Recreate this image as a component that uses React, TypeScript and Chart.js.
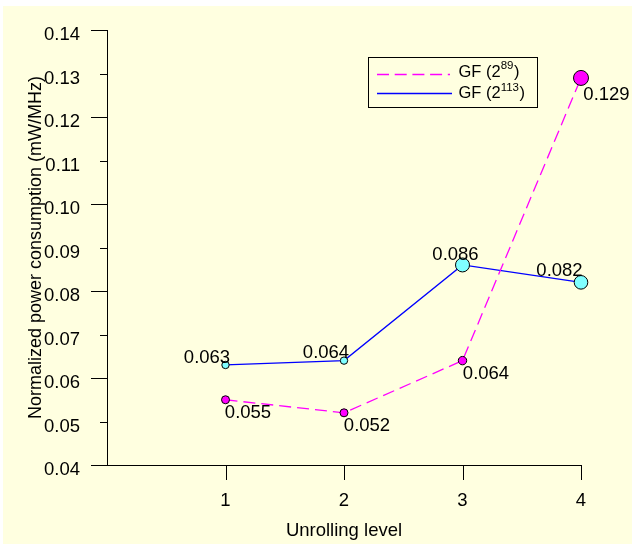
import React, { useEffect, useRef } from 'react';
import { Chart, registerables } from 'chart.js';

Chart.register(...registerables);

// ---- data ----
const levels = [1, 2, 3, 4];
const gf89 = [0.055, 0.052, 0.064, 0.129];
const gf113 = [0.063, 0.064, 0.086, 0.082];
const yTickValues = [0.04, 0.05, 0.06, 0.07, 0.08, 0.09, 0.1, 0.11, 0.12, 0.13, 0.14];
const xTickValues = [1, 2, 3, 4];
const seriesBase = ['GF (2', 'GF (2'];
const seriesSup = ['89', '113'];
const xTitle = 'Unrolling level';
const yTitle = 'Normalized power consumption (mW/MHz)';

// ---- styles ----
const FONT = '"Liberation Sans", Arial, sans-serif';
const BG = '#FFFFE0';
const radius113 = [3.7, 3.7, 7, 6.8];
const radius89 = [4, 4, 4.2, 7.5];
// label offsets (dx, dy to baseline) relative to point centres
const labelOff113: [number, number][] = [[-18.5, -2], [-18, -2.5], [-7, -4.6], [-21.5, -6]];
const labelOff89: [number, number][] = [[22.5, 18], [23, 18.3], [23.5, 18.6], [25.5, 21.6]];

const bgPlugin = {
  id: 'bgPlugin',
  beforeDraw(chart: any) {
    const ctx = chart.ctx;
    ctx.save();
    ctx.fillStyle = '#FFFFFF';
    ctx.fillRect(0, 0, chart.width, chart.height);
    ctx.fillStyle = BG;
    ctx.fillRect(3, 6, chart.width - 3, chart.height - 8);
    ctx.restore();
  },
};

const ticksPlugin = {
  id: 'ticksPlugin',
  afterDraw(chart: any) {
    const ctx = chart.ctx;
    const xs = chart.scales.x;
    const ys = chart.scales.y;
    const left = chart.chartArea.left;
    const bottom = chart.chartArea.bottom;
    ctx.save();
    ctx.strokeStyle = '#000';
    ctx.lineWidth = 1;
    ctx.beginPath();
    yTickValues.forEach((v) => {
      const py = Math.round(ys.getPixelForValue(v)) + 0.5;
      const len = Math.round(v * 100) % 2 === 0 ? 16 : 7;
      ctx.moveTo(Math.round(left) - len, py);
      ctx.lineTo(Math.round(left) + 0.5, py);
    });
    xTickValues.forEach((v) => {
      const px = Math.round(xs.getPixelForValue(v)) + 0.5;
      ctx.moveTo(px, Math.round(bottom));
      ctx.lineTo(px, Math.round(bottom) + 15);
    });
    ctx.stroke();
    ctx.restore();
  },
};

const labelsPlugin = {
  id: 'labelsPlugin',
  afterDatasetsDraw(chart: any) {
    const ctx = chart.ctx;
    ctx.save();
    ctx.font = `18.5px ${FONT}`;
    ctx.fillStyle = '#000';
    ctx.textAlign = 'center';
    ctx.textBaseline = 'alphabetic';
    const sets = [
      { values: gf113, offs: labelOff113, idx: 0 },
      { values: gf89, offs: labelOff89, idx: 1 },
    ];
    sets.forEach((s) => {
      const meta = chart.getDatasetMeta(s.idx);
      meta.data.forEach((pt: any, i: number) => {
        const [dx, dy] = s.offs[i];
        ctx.fillText(s.values[i].toFixed(3), pt.x + dx, pt.y + dy);
      });
    });
    ctx.restore();
  },
};

const legendPlugin = {
  id: 'legendPlugin',
  afterDraw(chart: any) {
    const ctx = chart.ctx;
    ctx.save();
    ctx.fillStyle = BG;
    ctx.fillRect(368, 57, 169, 50);
    ctx.strokeStyle = '#000';
    ctx.lineWidth = 1;
    ctx.strokeRect(368.5, 57.5, 169, 50);
    // magenta dashed sample
    ctx.strokeStyle = '#FF00FF';
    ctx.lineWidth = 1.3;
    ctx.setLineDash([12, 5.7]);
    ctx.beginPath();
    ctx.moveTo(377, 74.5);
    ctx.lineTo(450, 74.5);
    ctx.stroke();
    // blue sample
    ctx.setLineDash([]);
    ctx.strokeStyle = '#0000FF';
    ctx.beginPath();
    ctx.moveTo(377, 93.5);
    ctx.lineTo(452, 93.5);
    ctx.stroke();
    // texts
    ctx.fillStyle = '#000';
    ctx.textBaseline = 'alphabetic';
    ctx.textAlign = 'left';
    const rows = [76.5, 98];
    rows.forEach((by, i) => {
      let x = 458.5;
      ctx.font = `16.5px ${FONT}`;
      ctx.fillText(seriesBase[i], x, by);
      x += ctx.measureText(seriesBase[i]).width;
      ctx.font = `11.5px ${FONT}`;
      ctx.fillText(seriesSup[i], x, by - 7.5);
      x += ctx.measureText(seriesSup[i]).width + 0.5;
      ctx.font = `16.5px ${FONT}`;
      ctx.fillText(')', x, by);
    });
    ctx.restore();
  },
};

export default function App() {
  const ref = useRef<HTMLCanvasElement>(null);
  useEffect(() => {
    if (!ref.current) return;
    const chart = new Chart(ref.current, {
      type: 'line',
      data: {
        datasets: [
          {
            label: 'GF (2^113)',
            data: levels.map((x, i) => ({ x, y: gf113[i] })),
            borderColor: '#0000FF',
            borderWidth: 1.3,
            pointBackgroundColor: '#80FFFF',
            pointBorderColor: '#000000',
            pointBorderWidth: 1,
            pointRadius: radius113,
            pointHoverRadius: radius113,
            clip: false as any,
            order: 2,
          },
          {
            label: 'GF (2^89)',
            data: levels.map((x, i) => ({ x, y: gf89[i] })),
            borderColor: '#FF00FF',
            borderWidth: 1.3,
            borderDash: [12, 6],
            pointBackgroundColor: '#FF00FF',
            pointBorderColor: '#000000',
            pointBorderWidth: 1,
            pointRadius: radius89,
            pointHoverRadius: radius89,
            clip: false as any,
            order: 1,
          },
        ],
      },
      options: {
        animation: false,
        responsive: false,
        devicePixelRatio: 1,
        layout: { padding: { left: 0, top: 25, right: 51, bottom: 0 } },
        plugins: {
          legend: { display: false },
          tooltip: { enabled: false },
        },
        scales: {
          x: {
            type: 'linear',
            position: 'bottom',
            min: 0,
            max: 4,
            afterBuildTicks: (s: any) => {
              s.ticks = xTickValues.map((v) => ({ value: v }));
            },
            afterFit: (s: any) => {
              s.height = 81;
            },
            grid: { display: false },
            border: { display: true, color: '#000', width: 1 },
            ticks: {
              color: '#000',
              font: { family: FONT, size: 18.5 },
              padding: 17,
              maxRotation: 0,
              callback: (v: any) => String(v),
            },
            title: {
              display: true,
              text: xTitle,
              color: '#000',
              font: { family: FONT, size: 18.5 },
              padding: { top: 0, bottom: 4 },
            },
          },
          y: {
            type: 'linear',
            min: 0.04,
            max: 0.14,
            afterBuildTicks: (s: any) => {
              s.ticks = yTickValues.map((v) => ({ value: v }));
            },
            afterFit: (s: any) => {
              s.width = 107;
            },
            grid: { display: false },
            border: { display: true, color: '#000', width: 1 },
            ticks: {
              color: '#000',
              font: { family: FONT, size: 18.5 },
              padding: 19,
              labelOffset: 5,
              callback: (v: any) => Number(v).toFixed(2),
            },
            title: {
              display: true,
              text: yTitle,
              color: '#000',
              font: { family: FONT, size: 18 },
              padding: { top: 25.5, bottom: 0 },
            },
          },
        },
      },
      plugins: [bgPlugin, ticksPlugin, labelsPlugin, legendPlugin],
    } as any);
    return () => chart.destroy();
  }, []);
  return (
    <div style={{ position: 'absolute', left: 0, top: 0, width: 632, height: 546 }}>
      <canvas ref={ref} width={632} height={546} style={{ display: 'block' }} />
    </div>
  );
}
